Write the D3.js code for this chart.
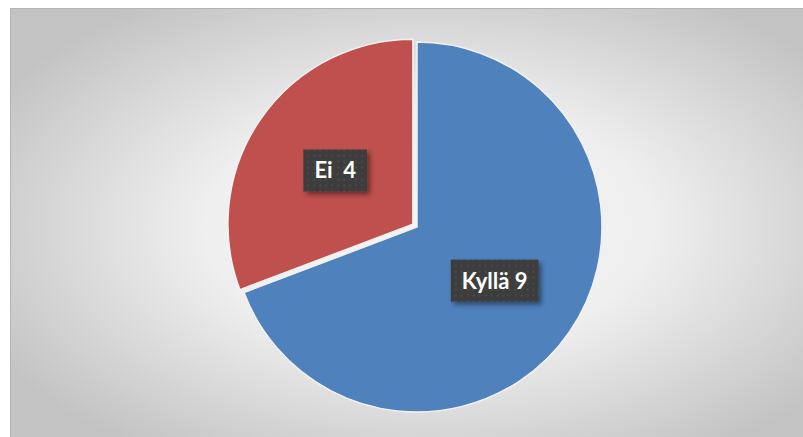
<!DOCTYPE html>
<html>
<head>
<meta charset="utf-8">
<script src="https://cdn.jsdelivr.net/npm/d3@7"></script>
<style>
  body { margin: 0; background: #fff; }
  svg { display: block; }
  .lbl { font-family: Lato, "Open Sans", sans-serif; font-weight: bold; font-size: 22px; fill: #fff; white-space: pre; }
</style>
</head>
<body>
<script>
// chart values
var categories = ["Kyllä", "Ei"];
var values = [9, 4];
var labelTexts = ["Kyllä 9", "Ei  4"];
var colors = ["#4f81bd", "#c0504d"];
var explode = [0, 5];

var W = 803, H = 437;
var cx = 417, cy = 227, R = 185;

var svg = d3.select("body").append("svg")
    .attr("width", W)
    .attr("height", H);

var defs = svg.append("defs");

var bg = defs.append("radialGradient")
    .attr("id", "bg")
    .attr("cx", 0.52).attr("cy", 0.5).attr("r", 0.62);
bg.append("stop").attr("offset", 0).attr("stop-color", "#f5f5f5");
bg.append("stop").attr("offset", 0.45).attr("stop-color", "#efefef");
bg.append("stop").attr("offset", 1).attr("stop-color", "#c3c3c3");

// dotted texture for label boxes
var pat = defs.append("pattern")
    .attr("id", "dots")
    .attr("patternUnits", "userSpaceOnUse")
    .attr("width", 6).attr("height", 6);
pat.append("rect").attr("width", 6).attr("height", 6).attr("fill", "#3c3c3c");
pat.append("circle").attr("cx", 3).attr("cy", 3).attr("r", 1).attr("fill", "#4e4e4e");

var sh = defs.append("filter").attr("id", "shadow")
    .attr("x", "-20%").attr("y", "-20%").attr("width", "150%").attr("height", "160%");
sh.append("feDropShadow")
    .attr("dx", 3).attr("dy", 3).attr("stdDeviation", 2.5)
    .attr("flood-color", "#000").attr("flood-opacity", 0.45);

// chart area
svg.append("rect")
    .attr("x", 10.5).attr("y", 8.5)
    .attr("width", W).attr("height", H)
    .attr("fill", "url(#bg)")
    .attr("stroke", "#b4b4b4")
    .attr("stroke-width", 1);

var pie = d3.pie().sort(null).value(function(d) { return d; });
var arcs = pie(values);

var arc = d3.arc().innerRadius(0).outerRadius(R);
var labelArc = d3.arc().innerRadius(R * 0.51).outerRadius(R * 0.51);

var g = svg.append("g")
    .attr("transform", "translate(" + cx + "," + cy + ")");

var slice = g.selectAll("g.slice")
    .data(arcs)
  .enter().append("g")
    .attr("class", "slice")
    .attr("transform", function(d, i) {
      var a = (d.startAngle + d.endAngle) / 2;
      return "translate(" + (Math.sin(a) * explode[i]) + "," + (-Math.cos(a) * explode[i]) + ")";
    });

slice.append("path")
    .attr("d", arc)
    .attr("fill", function(d, i) { return colors[i]; })
    .attr("stroke", "#f2f2f2")
    .attr("stroke-width", 1.5);

// data labels
var boxes = slice.append("g")
    .attr("transform", function(d) {
      var c = labelArc.centroid(d);
      return "translate(" + c[0] + "," + c[1] + ")";
    });

boxes.each(function(d, i) {
  var b = d3.select(this);
  var t = b.append("text")
      .attr("class", "lbl")
      .attr("text-anchor", "middle")
      .attr("dy", "0.36em")
      .text(labelTexts[i]);
  var w = t.node().getComputedTextLength() + 22;
  b.insert("rect", "text")
      .attr("x", -w / 2).attr("y", -21)
      .attr("width", w).attr("height", 42)
      .attr("fill", "url(#dots)")
      .attr("filter", "url(#shadow)");
});
</script>
</body>
</html>
